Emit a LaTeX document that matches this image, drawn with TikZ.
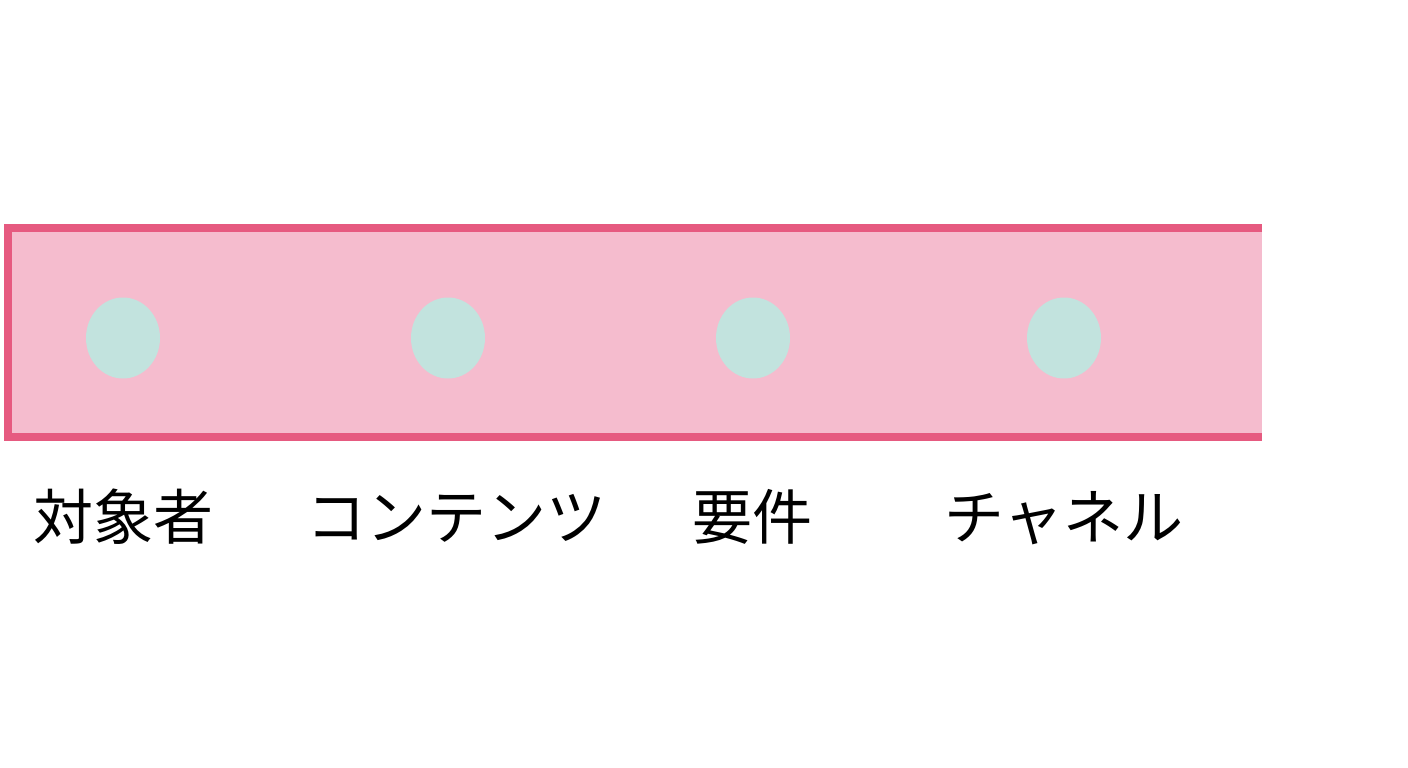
\documentclass[tikz,border=0pt]{standalone}
\usepackage{fontspec}
\usetikzlibrary{shapes.geometric}
\newfontfamily\cjk{Noto Sans CJK JP}
\definecolor{bandfill}{HTML}{F5BCCE}
\definecolor{bandedge}{HTML}{E65A80}
\definecolor{dotfill}{HTML}{C2E3DE}
\begin{document}
\begin{tikzpicture}[x=1pt,y=-1pt,
  dot/.style={ellipse,fill=dotfill,minimum width=74pt,minimum height=81pt,inner sep=0pt},
  lbl/.style={anchor=base,inner sep=0pt,font=\cjk\fontsize{60}{60}\selectfont},
  edge/.style={draw=bandedge,line width=8.5pt}]
\useasboundingbox (0,0) rectangle (1408,768);
\fill[bandfill] (4,224) rectangle (1262,441);
\draw[edge] (1262,228) -- (8,228) -- (8,437) -- (1262,437);
\node[dot] (d1) at (123,338) {};
\node[dot] (d2) at (448,338) {};
\node[dot] (d3) at (753,338) {};
\node[dot] (d4) at (1064,338) {};
\node[lbl] (l1) at (123,539) {対象者};
\node[lbl] (l2) at (456,539) {コンテンツ};
\node[lbl] (l3) at (752,539) {要件};
\node[lbl] (l4) at (1064,539) {チャネル};
\end{tikzpicture}
\end{document}
